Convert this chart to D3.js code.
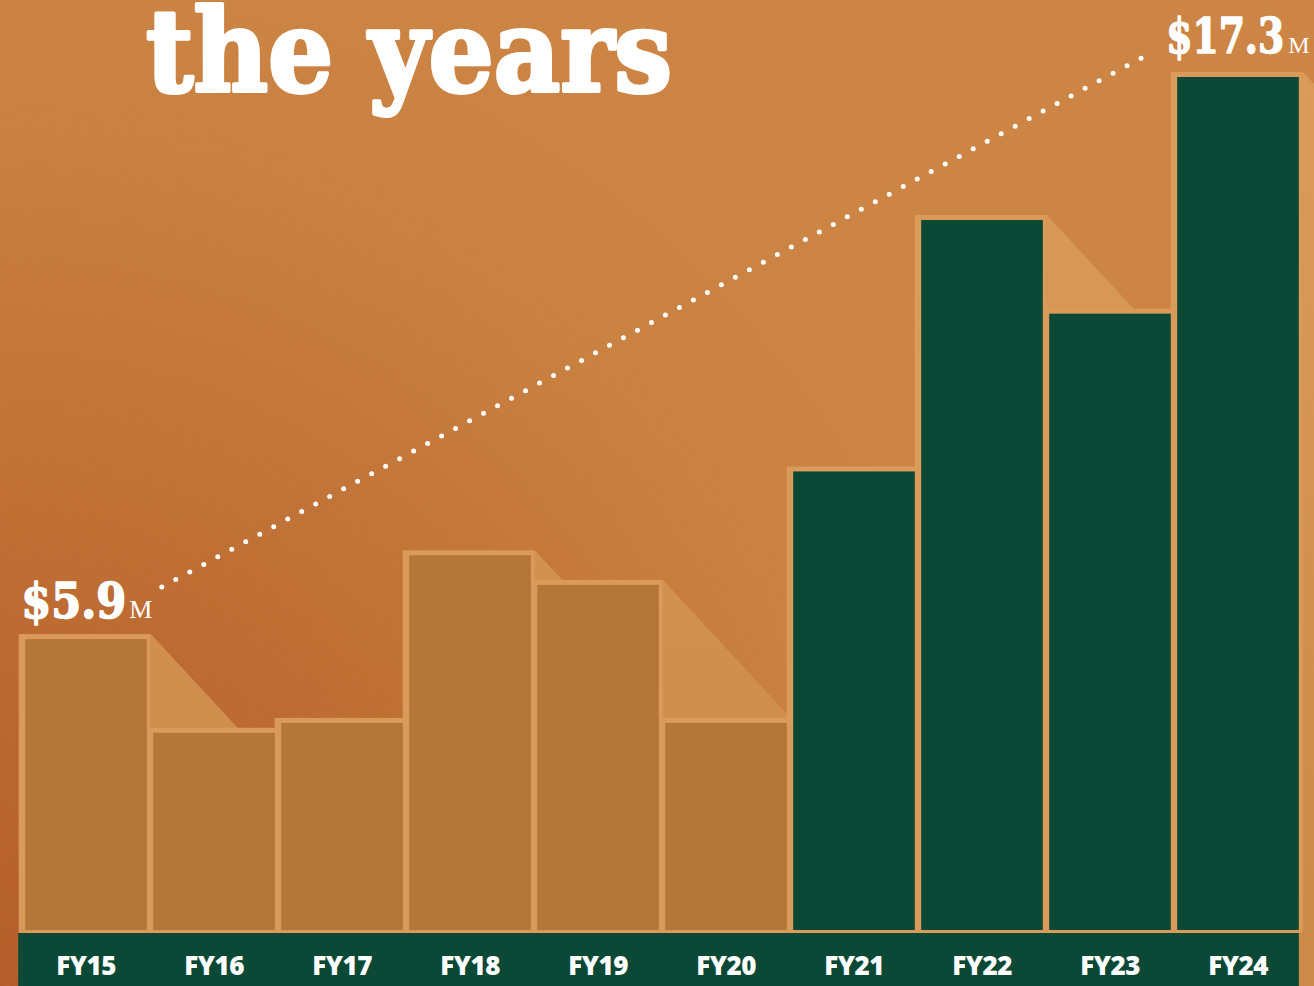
<!DOCTYPE html>
<html>
<head>
<meta charset="utf-8">
<script src="https://cdn.jsdelivr.net/npm/d3@7"></script>
<style>
  html, body { margin: 0; padding: 0; background: #cc8443; }
  svg { display: block; }
</style>
</head>
<body>
<svg id="chart"></svg>
<script>
// revenue by fiscal year, $M
const years = ["FY15", "FY16", "FY17", "FY18", "FY19", "FY20", "FY21", "FY22", "FY23", "FY24"];
const revenue = [5.9, 4.0, 4.2, 7.6, 7.0, 4.2, 9.3, 14.4, 12.5, 17.3];
const recentYears = ["FY21", "FY22", "FY23", "FY24"];

// the two callouts at either end of the dotted trend line
const calloutYears = ["FY15", "FY24"];
const calloutValues = ["$5.9", "$17.3"];
const calloutUnit = "M";

const title = "the years";

const width = 1314, height = 986;
const baseline = 930, bandTop = 933;

const colors = {
  tan: "#b5763a",
  frame: "#da9a5a",
  green: "#0c4836",
  white: "#ffffff"
};

const svg = d3.select("#chart")
  .attr("width", width)
  .attr("height", height);

const defs = svg.append("defs");

// background: warm orange, burnt toward the lower left
const bg = defs.append("radialGradient")
  .attr("id", "bg")
  .attr("gradientUnits", "userSpaceOnUse")
  .attr("cx", 0).attr("cy", height).attr("r", 1150);
bg.append("stop").attr("offset", "0%").attr("stop-color", "#b55a28");
bg.append("stop").attr("offset", "40%").attr("stop-color", "#c06e34");
bg.append("stop").attr("offset", "75%").attr("stop-color", "#ca8242");
bg.append("stop").attr("offset", "100%").attr("stop-color", "#cc8544");

const grainMask = defs.append("radialGradient")
  .attr("id", "grainFade")
  .attr("gradientUnits", "userSpaceOnUse")
  .attr("cx", 0).attr("cy", height).attr("r", 1000);
grainMask.append("stop").attr("offset", "0%").attr("stop-color", "#fff");
grainMask.append("stop").attr("offset", "100%").attr("stop-color", "#000");
defs.append("mask").attr("id", "grainMask")
  .append("rect")
  .attr("width", width).attr("height", height)
  .attr("fill", "url(#grainFade)");

const grain = defs.append("filter").attr("id", "grain")
  .attr("x", 0).attr("y", 0).attr("width", "100%").attr("height", "100%");
grain.append("feTurbulence")
  .attr("type", "fractalNoise")
  .attr("baseFrequency", 0.9)
  .attr("numOctaves", 2)
  .attr("seed", 3);
grain.append("feColorMatrix")
  .attr("type", "matrix")
  .attr("values", "0 0 0 0 0.45  0 0 0 0 0.2  0 0 0 0 0.05  0 0 0 -1.6 1.1");

// bar shadows fade a little toward the bottom
const shade = defs.append("linearGradient")
  .attr("id", "shade")
  .attr("gradientUnits", "userSpaceOnUse")
  .attr("x1", 0).attr("y1", 70).attr("x2", 0).attr("y2", bandTop);
shade.append("stop").attr("offset", "0%").attr("stop-color", "#da9b5b");
shade.append("stop").attr("offset", "100%").attr("stop-color", "#cc8a4a");

svg.append("rect")
  .attr("width", width).attr("height", height)
  .attr("fill", "url(#bg)");
svg.append("rect")
  .attr("width", width).attr("height", height)
  .attr("filter", "url(#grain)")
  .attr("mask", "url(#grainMask)")
  .attr("opacity", 0.45);

// scales
const x = d3.scaleBand()
  .domain(years)
  .range([22, 1302])
  .paddingInner(0.05)
  .paddingOuter(0.025);

const y = d3.scaleLinear()
  .domain([0, d3.max(revenue)])
  .range([baseline, 77]);

const data = years.map((year, i) => ({ year: year, value: revenue[i] }));
const bw = x.bandwidth();
const slope = 1.08;

// shadows cast down-right from each bar's top corner; later bars cover them
svg.append("g")
  .selectAll("path")
  .data(data)
  .join("path")
  .attr("fill", "url(#shade)")
  .attr("d", function(d) {
    const x0 = x(d.year) + bw + 4;
    const y0 = y(d.value) - 5;
    const run = 1000;
    return "M" + x0 + "," + y0 +
      "L" + (x0 + run) + "," + (y0 + run * slope) +
      "L" + (x0 + run) + "," + height +
      "L" + x0 + "," + height + "Z";
  });

// light frames behind the bars
svg.append("g")
  .selectAll("rect")
  .data(data)
  .join("rect")
  .attr("x", d => x(d.year) - 6.5)
  .attr("y", d => y(d.value) - 5)
  .attr("width", bw + 10.5)
  .attr("height", d => bandTop - y(d.value) + 5)
  .attr("fill", colors.frame);

// bars
svg.append("g")
  .selectAll("rect")
  .data(data)
  .join("rect")
  .attr("x", d => x(d.year))
  .attr("y", d => y(d.value))
  .attr("width", bw)
  .attr("height", d => baseline - y(d.value))
  .attr("fill", d => recentYears.includes(d.year) ? colors.green : colors.tan);

// year band along the bottom
svg.append("rect")
  .attr("x", x(years[0]) - 7)
  .attr("y", bandTop)
  .attr("width", x(years[years.length - 1]) + bw - x(years[0]) + 7)
  .attr("height", height - bandTop)
  .attr("fill", colors.green);

svg.append("g")
  .selectAll("text")
  .data(years)
  .join("text")
  .attr("x", d => x(d) + bw / 2)
  .attr("y", 975)
  .attr("text-anchor", "middle")
  .attr("fill", colors.white)
  .style("font-family", "'Open Sans', sans-serif")
  .style("font-weight", 800)
  .style("font-size", "26px")
  .style("letter-spacing", "-0.5px")
  .text(d => d);

// dotted trend line between the two callouts
const first = data.find(d => d.year === calloutYears[0]);
const last = data.find(d => d.year === calloutYears[1]);
const trend = [
  [x(first.year) + bw + 15, y(first.value) - 52],
  [x(last.year) - 34, y(last.value) - 20]
];
svg.append("path")
  .attr("d", d3.line()(trend))
  .attr("fill", "none")
  .attr("stroke", colors.white)
  .attr("stroke-width", 5)
  .attr("stroke-linecap", "round")
  .attr("stroke-dasharray", "0 15.9");

// callout labels
const valueFont = "'DejaVu Serif', serif";
const unitFont = "'Liberation Serif', serif";

function heavy(sel, w) {
  return sel
    .attr("stroke", colors.white)
    .attr("stroke-width", w)
    .attr("stroke-linejoin", "round");
}

svg.append("text")
  .attr("x", x(first.year) - 4)
  .attr("y", y(first.value) - 21)
  .attr("fill", colors.white)
  .attr("textLength", 105)
  .attr("lengthAdjust", "spacingAndGlyphs")
  .style("font-family", valueFont)
  .style("font-weight", "bold")
  .style("font-size", "48px")
  .text(calloutValues[0])
  .call(heavy, 1.6);
svg.append("text")
  .attr("x", x(first.year) + 104)
  .attr("y", y(first.value) - 21)
  .attr("fill", colors.white)
  .style("font-family", unitFont)
  .style("font-size", "26px")
  .text(calloutUnit);

svg.append("text")
  .attr("x", x(last.year) + 107)
  .attr("y", y(last.value) - 24)
  .attr("text-anchor", "end")
  .attr("fill", colors.white)
  .attr("textLength", 118)
  .attr("lengthAdjust", "spacingAndGlyphs")
  .style("font-family", valueFont)
  .style("font-weight", "bold")
  .style("font-size", "48px")
  .text(calloutValues[1])
  .call(heavy, 1.6);
svg.append("text")
  .attr("x", x(last.year) + 111)
  .attr("y", y(last.value) - 24)
  .attr("fill", colors.white)
  .style("font-family", unitFont)
  .style("font-size", "24px")
  .text(calloutUnit);

// title (its first line sits above the frame)
svg.append("text")
  .attr("x", 146)
  .attr("y", 91)
  .attr("fill", colors.white)
  .attr("textLength", 526)
  .attr("lengthAdjust", "spacingAndGlyphs")
  .style("font-family", valueFont)
  .style("font-weight", "bold")
  .style("font-size", "115px")
  .text(title)
  .call(heavy, 4);
</script>
</body>
</html>
